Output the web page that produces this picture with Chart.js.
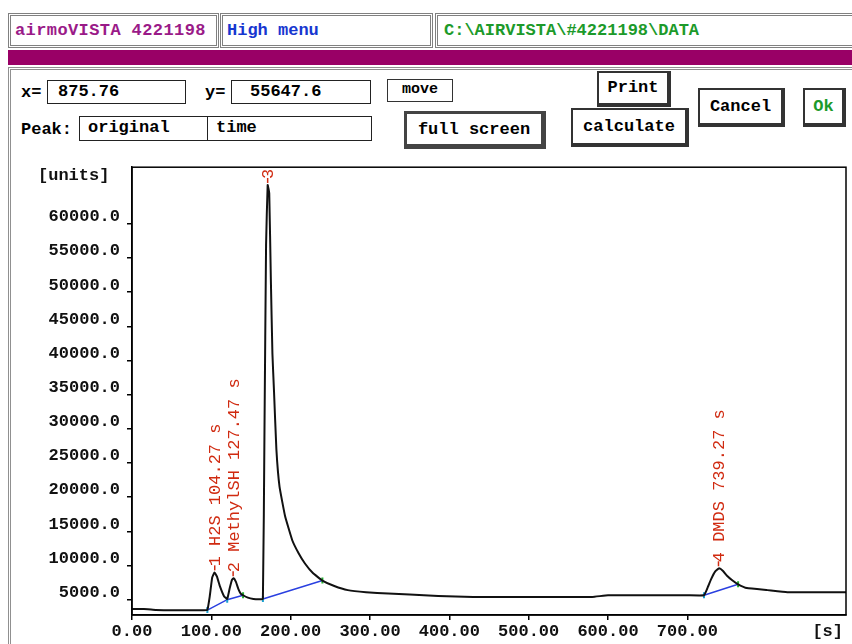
<!DOCTYPE html>
<html>
<head>
<meta charset="utf-8">
<script src="https://cdn.jsdelivr.net/npm/chart.js@4"></script>
<style>
  body { margin: 0; width: 852px; height: 644px; background: #fff; position: relative; overflow: hidden;
         font-family: "Liberation Mono", "DejaVu Sans Mono", monospace; font-weight: bold; font-size: 17px; }
  .abs { position: absolute; box-sizing: border-box; }
  .top { border: 3px double #808080; height: 35px; top: 13px; line-height: 29px; padding-left: 4px; white-space: nowrap; overflow: hidden; }
  .field { border: 1.5px solid #222; background: #fff; line-height: 21px; padding-left: 10px; white-space: nowrap; }
  .btn { border: 2px solid #333; border-right-width: 4px; border-bottom-width: 4px; background: #fff;
         text-align: center; white-space: nowrap; }
  .lbl { white-space: nowrap; }
</style>
</head>
<body>
<div class="abs top" style="left:8px;width:211px;color:#9a1a88;letter-spacing:0.4px;">airmoVISTA 4221198</div>
<div class="abs top" style="left:220px;width:213px;color:#1636d0;">High menu</div>
<div class="abs top" style="left:435px;width:420px;color:#1c9a2a;padding-left:6px;">C:\AIRVISTA\#4221198\DATA</div>
<div class="abs" style="left:8px;top:50px;width:852px;height:15px;background:#990066;"></div>
<div class="abs" style="left:8px;top:67px;width:850px;height:600px;border-left:3px double #909090;border-top:3px double #909090;"></div>

<div class="abs lbl" style="left:21px;top:82px;line-height:22px;">x=</div>
<div class="abs field" style="left:47px;top:80px;width:139px;height:24px;">875.76</div>
<div class="abs lbl" style="left:205px;top:82px;line-height:22px;">y=</div>
<div class="abs field" style="left:231px;top:80px;width:140px;height:24px;padding-left:18px;">55647.6</div>
<div class="abs btn" style="left:387px;top:79px;width:66px;height:23px;border-width:1.5px;line-height:20px;font-size:15px;">move</div>

<div class="abs lbl" style="left:21px;top:119px;line-height:22px;">Peak:</div>
<div class="abs field" style="left:79px;top:116px;width:129px;height:25px;padding-left:8px;">original</div>
<div class="abs field" style="left:207px;top:116px;width:165px;height:25px;padding-left:8px;">time</div>
<div class="abs btn" style="left:404px;top:111px;width:142px;height:38px;line-height:32px;border:3px solid #444;border-right-width:5px;border-bottom-width:5px;">full screen</div>

<div class="abs btn" style="left:597px;top:71px;width:74px;height:36px;line-height:30px;">Print</div>
<div class="abs btn" style="left:571px;top:108px;width:118px;height:39px;line-height:33px;">calculate</div>
<div class="abs btn" style="left:698px;top:88px;width:87px;height:39px;line-height:33px;">Cancel</div>
<div class="abs btn" style="left:803px;top:88px;width:43px;height:39px;line-height:33px;color:#1c9a2a;">Ok</div>

<canvas id="chromChart" width="852" height="494" style="position:absolute;left:0;top:150px;"></canvas>

<script>
// retention time [s] and detector signal [units]
const times = [0, 10, 20, 30, 50, 70, 90, 95, 98, 101, 104, 107, 111, 116, 120, 123, 126, 128, 131, 134, 137, 140,
  146, 153, 160, 165, 167, 169, 171, 173, 175, 177, 179, 182, 186, 193, 202, 210, 218, 228, 240, 255, 272, 295,
  323, 350, 386, 430, 500, 580, 600, 700, 721, 725, 730, 735, 740, 745, 750, 757, 764, 775, 801, 826, 900]
const signal = [3650, 3650, 3600, 3500, 3450, 3450, 3450, 3500, 5500, 8200, 9000, 8400, 6900, 5500, 5100, 6600, 7900, 8150, 7600, 6600, 5900, 5650,
  5300, 5100, 5050, 5100, 30000, 57000, 65700, 64500, 52000, 41000, 35500, 27000, 21500, 17200, 13700, 11800, 10300, 8900, 7800, 7000, 6400, 6100,
  5900, 5750, 5550, 5400, 5380, 5400, 5650, 5650, 5650, 6600, 8000, 9100, 9600, 9200, 8500, 7800, 7250, 6700, 6400, 6100, 6100]

// integration baselines (null = break between peaks)
const baseTimes = [95, 120, 140, 150, 165, 240, 500, 721, 764]
const baseValues = [3480, 5000, 5650, null, 5100, 7800, null, 5650, 7250]
const baseMarks = ['#1aa0d0', '#1aa0d0', '#22b030', null, '#1aa0d0', '#22b030', null, '#1aa0d0', '#22b030']

// peak annotations
const peakTimes = [104.27, 127.47, 171, 739.27]
const peakLabels = ['1 H2S 104.27 s', '2 MethylSH 127.47 s', '3', '4 DMDS 739.27 s']

const xTicks = [0, 100, 200, 300, 400, 500, 600, 700]
const yTicks = [5000, 10000, 15000, 20000, 25000, 30000, 35000, 40000, 45000, 50000, 55000, 60000]

const monoFont = '"Liberation Mono", "DejaVu Sans Mono", monospace'

function peakHeight(t) {
  let best = 0
  times.forEach((x, i) => {
    if (Math.abs(x - t) <= 4 && signal[i] > best) best = signal[i]
  })
  return best
}

const chartExtras = {
  id: 'chartExtras',
  afterDraw(chart) {
    const ctx = chart.ctx
    const area = chart.chartArea
    const xs = chart.scales.x
    const ys = chart.scales.y
    ctx.save()
    // frame
    ctx.strokeStyle = '#000'
    ctx.lineWidth = 1.5
    ctx.strokeRect(area.left, area.top, area.right - area.left, area.bottom - area.top)

    // axis units
    ctx.fillStyle = '#111'
    ctx.font = 'bold 17px ' + monoFont
    ctx.textBaseline = 'middle'
    ctx.textAlign = 'left'
    ctx.fillText('[units]', 38, 26)
    ctx.textAlign = 'right'
    ctx.fillText('[s]', 843, 482)

    // peak labels
    ctx.strokeStyle = '#d02a10'
    ctx.fillStyle = '#d02a10'
    ctx.lineWidth = 1.5
    ctx.font = '17px ' + monoFont
    peakTimes.forEach((t, i) => {
      const px = xs.getPixelForValue(t)
      const py = ys.getPixelForValue(peakHeight(t))
      ctx.beginPath()
      ctx.moveTo(px, py - 2)
      ctx.lineTo(px, py - 7)
      ctx.stroke()
      ctx.save()
      ctx.translate(px, py - 6)
      ctx.rotate(-Math.PI / 2)
      ctx.textAlign = 'left'
      ctx.textBaseline = 'middle'
      ctx.fillText(peakLabels[i], 0, 1)
      ctx.restore()
    })
    ctx.restore()
  }
}

const chromChart = new Chart(document.getElementById('chromChart'), {
  type: 'line',
  data: {
    datasets: [{
      label: 'signal',
      data: times.map((t, i) => ({ x: t, y: signal[i] })),
      borderColor: '#111',
      borderWidth: 2,
      pointRadius: 0,
      tension: 0.1
    }, {
      label: 'baseline',
      data: baseTimes.map((t, i) => ({ x: t, y: baseValues[i] })),
      borderColor: '#2a40e0',
      borderWidth: 1.5,
      spanGaps: false,
      pointStyle: 'line',
      rotation: 90,
      pointRadius: 3,
      pointBorderWidth: 2,
      pointBorderColor: baseMarks.map(c => c || 'transparent'),
      tension: 0
    }]
  },
  options: {
    responsive: false,
    animation: false,
    layout: { padding: { top: 14, right: 6, left: 0, bottom: 0 } },
    plugins: { legend: { display: false }, tooltip: { enabled: false } },
    scales: {
      x: {
        type: 'linear',
        min: 0,
        max: 900,
        afterBuildTicks: scale => { scale.ticks = xTicks.map(v => ({ value: v })) },
        afterFit: scale => { scale.height = 29 },
        grid: { drawOnChartArea: false, drawTicks: true, tickLength: 5, color: '#000', lineWidth: 1.5 },
        border: { display: true, color: '#000', width: 1.5 },
        ticks: {
          color: '#111',
          padding: 2,
          maxRotation: 0,
          font: { family: monoFont, size: 17, weight: 'bold' },
          callback: v => v.toFixed(2)
        }
      },
      y: {
        type: 'linear',
        min: 2760,
        max: 68300,
        afterBuildTicks: scale => { scale.ticks = yTicks.map(v => ({ value: v })) },
        afterFit: scale => { scale.width = 132 },
        grid: { drawOnChartArea: false, drawTicks: true, tickLength: 5, color: '#000', lineWidth: 1.5 },
        border: { display: true, color: '#000', width: 1.5 },
        ticks: {
          color: '#111',
          padding: 7,
          labelOffset: -7,
          font: { family: monoFont, size: 17, weight: 'bold' },
          callback: v => v.toFixed(1)
        }
      }
    }
  },
  plugins: [chartExtras]
})
</script>
</body>
</html>
